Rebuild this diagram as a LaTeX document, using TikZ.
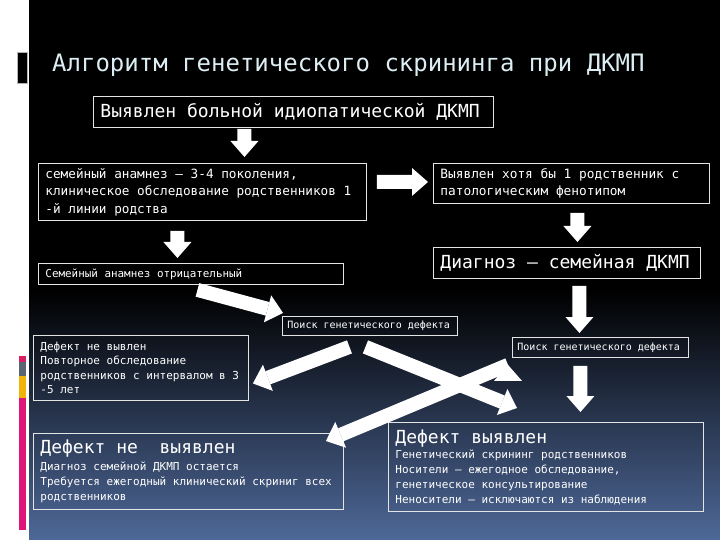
\documentclass[tikz,border=0pt]{standalone}
\usepackage{fontspec}
\setmainfont{DejaVu Sans Mono}
\usetikzlibrary{arrows.meta}
\usetikzlibrary{positioning}

\definecolor{bgblue}{RGB}{78,104,152}
\definecolor{titlecol}{RGB}{220,238,244}
\definecolor{boxline}{RGB}{228,228,228}
\definecolor{stripepink}{RGB}{214,30,96}
\definecolor{stripegray}{RGB}{92,102,114}
\definecolor{stripeyellow}{RGB}{240,180,10}
\definecolor{stripemag}{RGB}{222,22,122}

\begin{document}
\begin{tikzpicture}[x=1bp, y=-1bp,
        box/.style={draw=boxline, line width=0.9bp, text=white, anchor=north west,
                    align=flush left, inner xsep=7bp, inner ysep=0bp},
        blk/.style={white, line width=14bp, -{Triangle[width=28bp,length=16bp,line width=0pt]}}]
        \useasboundingbox (0,0) rectangle (720,540);

        % background and side marks
        \fill[white] (0,0) rectangle (720,540);
        \fill[black] (29,0) rectangle (720,290);
        \shade[top color=black, bottom color=bgblue] (29,290) rectangle (720,540);
        \fill[black, draw=gray!60, line width=0.6bp] (17,52) rectangle (27,83);
        \fill[stripepink]   (19,356) rectangle (26,362);
        \fill[stripegray]   (19,362) rectangle (26,376);
        \fill[stripeyellow] (19,376) rectangle (26,398);
        \fill[stripemag]    (19,398) rectangle (26,530);

        \node[anchor=base west, inner sep=0, text=titlecol, font=\fontsize{24bp}{28bp}\selectfont] (title) at (52,72)
            {Алгоритм генетического скрининга при ДКМП};

        \node[box, text width=386bp, minimum height=31bp, font=\fontsize{18bp}{22bp}\selectfont] (start) at (93,96)
            {Выявлен больной идиопатической ДКМП};
        \node[box, text width=314bp, minimum height=57bp, font=\fontsize{12.7bp}{17.5bp}\selectfont] (hist) at (38,163)
            {семейный анамнез – 3-4 поколения,\\клиническое обследование родственников 1\\-й линии родства};
        \node[box, text width=262bp, minimum height=40bp, font=\fontsize{12.8bp}{17bp}\selectfont] (rel) at (433,163)
            {Выявлен хотя бы 1 родственник с\\патологическим фенотипом};
        \node[box, text width=253bp, minimum height=31bp, font=\fontsize{18bp}{22bp}\selectfont] (diag) at (433,247)
            {Диагноз – семейная ДКМП};
        \node[box, text width=291bp, minimum height=21bp, font=\fontsize{10.9bp}{13bp}\selectfont] (neg) at (38,263)
            {Семейный анамнез отрицательный};
        \node[box, inner xsep=5bp, text width=165bp, minimum height=19bp, font=\fontsize{10bp}{12bp}\selectfont] (srchL) at (282,316)
            {Поиск генетического дефекта};
        \node[box, inner xsep=5bp, text width=166bp, minimum height=20bp, font=\fontsize{10bp}{12bp}\selectfont] (srchR) at (512,337)
            {Поиск генетического дефекта};
        \node[box, text width=201bp, minimum height=65bp, font=\fontsize{11bp}{14.5bp}\selectfont] (redo) at (33,335)
            {Дефект не вывлен\\Повторное обследование\\родственников с интервалом в 3\\-5 лет};
        \node[box, text width=296bp, minimum height=76bp, font=\fontsize{11bp}{15bp}\selectfont] (nodef) at (33,433)
            {{\fontsize{18bp}{22bp}\selectfont Дефект не\ \ выявлен}\\[2bp]Диагноз семейной ДКМП остается\\Требуется ежегодный клинический скриниг всех\\родственников};
        \node[box, text width=301bp, minimum height=89bp, font=\fontsize{11bp}{15bp}\selectfont] (def) at (388,422)
            {{\fontsize{18bp}{22bp}\selectfont Дефект выявлен}\\Генетический скрининг родственников\\Носители – ежегодное обследование,\\генетическое консультирование\\Неносители – исключаются из наблюдения};

        \draw[blk]
            ([shift={(-49,1)}]start.south)    edge ([shift={(42,-6)}]hist.north)
            ([shift={(-25,10)}]hist.south)    edge ([shift={(-13.5,-5)}]neg.north)
            ([shift={(10,-10)}]hist.east)     edge ([shift={(-5,-1.5)}]rel.west)
            ([shift={(6,9)}]rel.south)        edge ([shift={(10.5,-5)}]diag.north)
            ([shift={(12.5,7)}]diag.south)    edge ([shift={(-21,-4)}]srchR.north)
            ([shift={(-20,8)}]srchR.south)    edge ([shift={(34.5,-10)}]def.north)
            ([shift={(6.5,5)}]neg.south)      edge ([shift={(1,-3)}]srchL.north west)
            ([shift={(-20.5,11)}]srchL.south) edge ([shift={(4,15.5)}]redo.east)
            ([shift={(-4.5,11)}]srchL.south)  edge ([shift={(129,-14)}]def.north west)
            ([shift={(-4,7)}]srchR.south west) edge ([shift={(-18,8)}]nodef.north east);
\end{tikzpicture}
\end{document}
